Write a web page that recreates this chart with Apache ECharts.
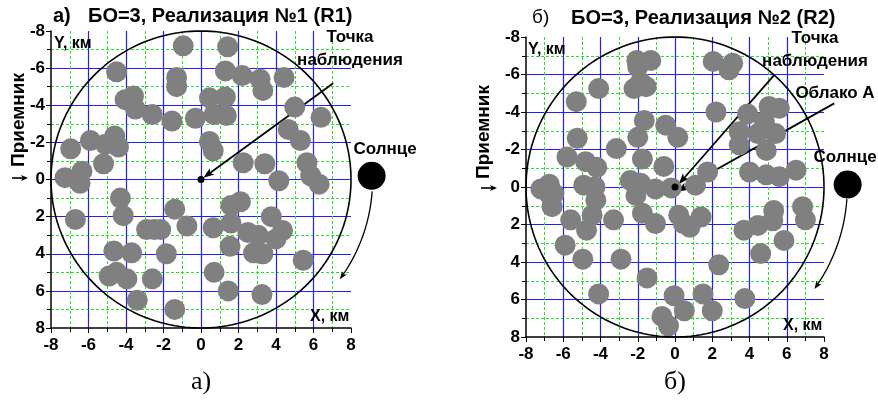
<!DOCTYPE html>
<html>
<head>
<meta charset="utf-8">
<script src="https://cdn.jsdelivr.net/npm/echarts@6/dist/echarts.min.js"></script>
<style>
html, body { margin: 0; padding: 0; background: #fff; }
#chart { width: 878px; height: 403px; }
</style>
</head>
<body>
<div id="chart"></div>
<script>
// Axis range and tick step (km)
const axisMin = -8;
const axisMax = 8;
const axisStep = 2;

// Cloud centres, realisation R1 (X, Y in km; Y grows downward)
const cloudsR1 = [
  [-0.95,-7.2],[1.42,-7.15],[-4.5,-5.8],[-1.3,-5.5],[-1.3,-5.0],[-3.6,-4.5],[-4.05,-4.3],
  [-3.5,-3.8],[-2.6,-3.5],[-1.55,-3.15],[-0.3,-3.3],[0.45,-4.4],[1.3,-4.45],[0.7,-3.5],
  [1.35,-3.45],[1.3,-5.85],[2.2,-5.6],[3.15,-5.4],[3.3,-4.8],[4.43,-5.5],[5.0,-3.9],
  [6.4,-3.35],[4.65,-2.7],[5.3,-2.1],[0.45,-2.05],[0.65,-1.55],[2.25,-0.9],[3.4,-0.85],
  [5.65,-0.9],[5.85,-0.2],[6.3,0.25],[4.15,0.07],[1.6,1.4],[2.1,1.2],[1.6,2.35],
  [0.65,2.6],[3.75,2.0],[2.5,2.85],[3.05,3.0],[4.35,2.75],[4.0,3.2],[1.55,3.6],
  [2.8,3.95],[3.3,4.0],[5.45,4.35],[0.7,5.0],[1.45,6.0],[3.25,6.2],
  [-6.95,-1.65],[-5.9,-2.1],[-5.1,-1.9],[-4.6,-2.35],[-4.4,-1.75],[-5.2,-0.85],
  [-7.25,-0.1],[-6.35,-0.45],[-6.45,0.2],[-4.3,1.0],[-4.15,1.95],[-6.7,2.15],
  [-1.4,1.6],[-0.75,2.5],[-2.9,2.7],[-2.5,2.7],[-2.15,2.7],[-4.65,3.85],[-3.7,3.95],
  [-1.85,4.0],[-4.9,5.2],[-4.5,5.0],[-3.95,5.35],[-2.6,5.35],[-3.4,6.5],[-1.4,7.0]
];

// Cloud centres, realisation R2
const cloudsR2 = [
  [-2.05,-6.75],[-1.3,-6.75],[-2.0,-6.4],[-1.85,-5.6],[-1.55,-5.35],[-2.2,-5.25],
  [-4.1,-5.25],[-5.3,-4.55],[-1.65,-3.55],[-2.0,-2.65],[-5.25,-2.6],[-3.15,-2.05],
  [-5.8,-1.6],[-4.8,-1.35],[-4.2,-1.05],[-1.75,-1.5],[-7.2,0.1],[-6.75,-0.15],
  [-6.5,0.35],[-4.9,-0.1],[-4.3,0.0],[-2.4,-0.35],[-1.85,-0.2],[-1.05,0.1],
  [2.05,-6.7],[3.1,-6.6],[2.9,-6.25],[2.2,-4.0],[3.9,-3.9],[5.05,-4.3],[5.6,-4.2],
  [4.8,-3.5],[3.45,-2.95],[4.45,-2.85],[5.4,-2.85],[3.45,-2.25],[4.9,-1.95],
  [-0.5,-3.3],[0.15,-2.65],[-0.6,-1.1],[1.75,-0.8],[4.0,-0.8],[4.9,-0.65],[5.6,-0.55],
  [6.5,-0.9],[1.1,-0.1],[-0.2,0.05],[0.2,1.5],[0.45,1.95],[0.8,2.15],[1.4,1.6],
  [-1.05,1.95],[3.7,2.3],[4.45,2.05],[5.25,1.8],[5.3,1.25],[6.85,1.05],[7.0,1.75],
  [5.85,2.85],[4.6,3.55],[2.35,4.15],[-1.5,4.85],[-0.05,5.8],[0.5,6.6],[1.5,5.7],
  [2.0,6.6],[3.75,5.95],[-0.7,6.9],[-0.35,7.4],[-6.7,0.45],[-6.6,1.05],[-4.25,0.7],
  [-4.45,1.5],[-5.6,1.75],[-4.75,2.3],[-3.3,1.75],[-2.1,0.45],[-1.75,1.4],
  [-5.9,3.1],[-4.95,3.85],[-2.9,3.85],[-4.1,5.7]
];

// Observation point, sun positions and pointer lines (start -> arrow tip)
const observer = [0, 0];
const sunR1 = [9.1, -0.2];
const sunR2 = [9.27, -0.13];
const viewLineR1 = [[7.05, -5.18], [0.12, -0.09]];
const viewLineR2 = [[5.32, -5.97], [0.2, -0.15]];
const cloudLineR2 = [[8.55, -4.46], [0.1, 0.25]];

// Domain radius and the sun's path (radius km, start/end angle in degrees)
const domainRadius = 8;
const sunPathR1 = { r: 9.15, from: 4, to: 36 };
const sunPathR2 = { r: 9.25, from: 4, to: 36 };

const FONT = "'Liberation Sans', Arial, sans-serif";
const SERIF = "'Liberation Serif', 'Times New Roman', serif";

function circlePoints(r) {
  const pts = [];
  for (let a = 0; a <= 360; a += 2) {
    const t = a * Math.PI / 180;
    pts.push([r * Math.cos(t), r * Math.sin(t)]);
  }
  return pts;
}
function arcPoints(p) {
  const pts = [];
  for (let a = p.from; a <= p.to; a += 1) {
    const t = a * Math.PI / 180;
    pts.push([p.r * Math.cos(t), p.r * Math.sin(t)]);
  }
  return pts;
}

function makeXAxis(i) {
  return {
    gridIndex: i, type: 'value', min: axisMin, max: axisMax, interval: axisStep,
    axisLine: { show: true, onZero: false, lineStyle: { color: '#000', width: 1.5 } },
    axisTick: { show: true, inside: false, length: 5, lineStyle: { color: '#000', width: 1 } },
    minorTick: { show: true, splitNumber: 2, length: 4, lineStyle: { color: '#000', width: 1 } },
    splitLine: { show: true, showMinLine: false, showMaxLine: false, lineStyle: { color: '#1e1eff', width: 1.2 } },
    minorSplitLine: { show: true, lineStyle: { color: '#22e622', width: 1, type: [3, 2] } },
    axisLabel: { fontSize: 17, fontWeight: 'bold', color: '#000', margin: 9, fontFamily: FONT }
  };
}
function makeYAxis(i) {
  const ax = makeXAxis(i);
  ax.inverse = true;
  ax.axisLabel = { fontSize: 17, fontWeight: 'bold', color: '#000', margin: 6, fontFamily: FONT };
  return ax;
}

function panelSeries(i, clouds, sun) {
  return [
    {
      type: 'scatter', xAxisIndex: i, yAxisIndex: i, data: clouds,
      symbolSize: 21, itemStyle: { color: '#808080', opacity: 1 }, z: 3, silent: true
    },
    {
      type: 'line', xAxisIndex: i, yAxisIndex: i, data: circlePoints(domainRadius),
      showSymbol: false, symbol: 'none', lineStyle: { color: '#000', width: 1.6 }, z: 4, silent: true, clip: false
    },
    {
      type: 'scatter', xAxisIndex: i, yAxisIndex: i, data: [sun], clip: false,
      symbolSize: 28, itemStyle: { color: '#000', opacity: 1 }, z: 5, silent: true
    },
    {
      type: 'scatter', xAxisIndex: i, yAxisIndex: i, data: [observer], clip: false,
      symbolSize: 7, itemStyle: { color: '#000', opacity: 1 }, z: 6, silent: true
    }
  ];
}

function text(x, y, str, opt) {
  return {
    type: 'text', x: x, y: y, z: 20,
    style: Object.assign({
      text: str, fill: '#000', font: 'bold 17px ' + FONT,
      textAlign: 'left', textVerticalAlign: 'middle'
    }, opt || {})
  };
}

// Polyline in pixels with a filled arrowhead at its last point
function arrowShape(pts, width, headLen, headW) {
  const n = pts.length;
  const tip = pts[n - 1];
  const prev = pts[n - 2];
  let dx = tip[0] - prev[0], dy = tip[1] - prev[1];
  const len = Math.hypot(dx, dy) || 1;
  dx /= len; dy /= len;
  const bx = tip[0] - dx * headLen, by = tip[1] - dy * headLen;
  const nx = -dy * headW / 2, ny = dx * headW / 2;
  const body = pts.slice(0, n - 1).concat([[tip[0] - dx * headLen * 0.6, tip[1] - dy * headLen * 0.6]]);
  return {
    type: 'group', z: 15, children: [
      { type: 'polyline', shape: { points: body }, style: { stroke: '#000', lineWidth: width, fill: null } },
      {
        type: 'polygon',
        shape: { points: [tip, [bx + nx, by + ny], [tip[0] - dx * headLen * 0.75, tip[1] - dy * headLen * 0.75], [bx - nx, by - ny]] },
        style: { fill: '#000' }
      }
    ]
  };
}

const chart = echarts.init(document.getElementById('chart'), null, { renderer: 'canvas' });
chart.setOption({
  animation: false,
  backgroundColor: '#fff',
  grid: [
    { left: 51, top: 31, width: 300, height: 297 },
    { left: 526, top: 37, width: 298, height: 300 }
  ],
  xAxis: [makeXAxis(0), makeXAxis(1)],
  yAxis: [makeYAxis(0), makeYAxis(1)],
  series: [].concat(panelSeries(0, cloudsR1, sunR1), panelSeries(1, cloudsR2, sunR2))
});

// Pointer lines and sun paths are placed through the grids' own scales
const toPx = (i, p) => chart.convertToPixel({ gridIndex: i }, p);
const pxList = (i, list) => list.map(p => toPx(i, p));

chart.setOption({
  graphic: [
    arrowShape(pxList(0, viewLineR1), 1.8, 11, 8),
    arrowShape(pxList(1, viewLineR2), 1.8, 11, 8),
    arrowShape(pxList(1, cloudLineR2), 1.8, 11, 8),
    arrowShape(pxList(0, arcPoints(sunPathR1)), 1.3, 8, 6),
    arrowShape(pxList(1, arcPoints(sunPathR2)), 1.3, 8, 6),
    text(53, 16, 'а)', { font: 'bold 20px ' + FONT }),
    text(88, 16, 'БО=3, Реализация №1 (R1)', { font: 'bold 20px ' + FONT }),
    text(532, 18, 'б)', { font: '19px ' + FONT }),
    text(571, 18, 'БО=3, Реализация №2 (R2)', { font: 'bold 20px ' + FONT }),
    text(54, 44, 'Y, км', { font: 'bold 16px ' + FONT }),
    text(528, 50, 'Y, км', { font: 'bold 16px ' + FONT }),
    text(310, 317, 'X, км', { font: 'bold 16px ' + FONT }),
    text(783, 326, 'X, км', { font: 'bold 16px ' + FONT }),
    text(350, 37, 'Точка', { textAlign: 'center' }),
    text(350, 60, 'наблюдения', { textAlign: 'center' }),
    text(815, 38, 'Точка', { textAlign: 'center' }),
    text(815, 61, 'наблюдения', { textAlign: 'center' }),
    text(835, 93, 'Облако А', { textAlign: 'center' }),
    text(385, 149, 'Солнце', { textAlign: 'center' }),
    text(845, 157, 'Солнце', { textAlign: 'center' }),
    {
      type: 'text', x: 18.5, y: 120, rotation: Math.PI / 2, z: 20,
      style: { text: 'Приемник', fill: '#000', font: 'bold 19px ' + FONT, textAlign: 'center', textVerticalAlign: 'middle' }
    },
    {
      type: 'text', x: 483.5, y: 132, rotation: Math.PI / 2, z: 20,
      style: { text: 'Приемник', fill: '#000', font: 'bold 19px ' + FONT, textAlign: 'center', textVerticalAlign: 'middle' }
    },
    arrowShape([[12, 178], [28, 178]], 1.6, 7, 6),
    arrowShape([[481, 188], [497, 188]], 1.6, 7, 6),
    text(201, 382, 'а)', { font: '26px ' + SERIF, textAlign: 'center' }),
    text(675, 382, 'б)', { font: '26px ' + SERIF, textAlign: 'center' })
  ]
});
</script>
</body>
</html>
